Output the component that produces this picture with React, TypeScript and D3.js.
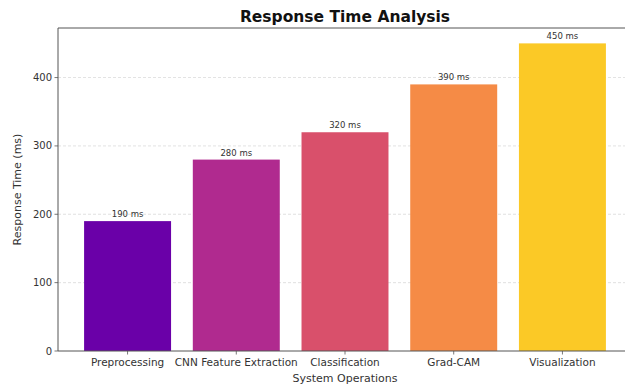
import React from "react";
import * as d3 from "d3";

const categories = ["Preprocessing", "CNN Feature Extraction", "Classification", "Grad-CAM", "Visualization"];
const values = [190, 280, 320, 390, 450];
const colors = ["#6a00a8", "#b02a8f", "#d9506b", "#f58b46", "#fbc926"];
const yTicks = [0, 100, 200, 300, 400];

const W = 625;
const H = 387;
const left = 58;
const right = 632;
const top = 28;
const bottom = 351;
const font = "DejaVu Sans, sans-serif";

export default function App() {
  const x = d3.scaleBand<string>().domain(categories).range([left, right]).paddingInner(0.2).paddingOuter(0.24);
  const y = d3.scaleLinear().domain([0, 472.5]).range([bottom, top]);
  const cx = (left + right) / 2;
  return (
    <svg width={W} height={H} style={{ position: "absolute", left: 0, top: 0, background: "#fff" }}>
      <text x={cx} y={22} textAnchor="middle" fontFamily={font} fontWeight="bold" fontSize={15.5} fill="#111">
        Response Time Analysis
      </text>
      {yTicks.slice(1).map((t) => (
        <line key={t} x1={left} x2={right} y1={y(t)} y2={y(t)} stroke="#ccc" strokeWidth={0.8} strokeDasharray="3,2" opacity={0.7} />
      ))}
      {categories.map((c, i) => (
        <g key={c}>
          <rect x={x(c)} y={y(values[i])} width={x.bandwidth()} height={bottom - y(values[i])} fill={colors[i]} />
          <text x={(x(c) as number) + x.bandwidth() / 2} y={y(values[i]) - 4} textAnchor="middle" fontFamily={font} fontSize={8.5} fill="#333">
            {values[i]} ms
          </text>
        </g>
      ))}
      <line x1={left} x2={right} y1={top} y2={top} stroke="#555" strokeWidth={1} />
      <line x1={left} x2={left} y1={top} y2={bottom} stroke="#555" strokeWidth={1} />
      <line x1={left} x2={right} y1={bottom} y2={bottom} stroke="#555" strokeWidth={1} />
      {yTicks.map((t) => (
        <g key={t}>
          <line x1={left - 3.5} x2={left} y1={y(t)} y2={y(t)} stroke="#555" strokeWidth={0.8} />
          <text x={left - 6} y={y(t) + 3.5} textAnchor="end" fontFamily={font} fontSize={10} fill="#333">
            {t}
          </text>
        </g>
      ))}
      {categories.map((c) => {
        const px = (x(c) as number) + x.bandwidth() / 2;
        return (
          <g key={c}>
            <line x1={px} x2={px} y1={bottom} y2={bottom + 3.5} stroke="#555" strokeWidth={0.8} />
            <text x={px} y={bottom + 15} textAnchor="middle" fontFamily={font} fontSize={10.5} fill="#333">
              {c}
            </text>
          </g>
        );
      })}
      <text x={cx} y={382} textAnchor="middle" fontFamily={font} fontSize={11} fill="#333">
        System Operations
      </text>
      <text transform={`translate(21,${(top + bottom) / 2}) rotate(-90)`} textAnchor="middle" fontFamily={font} fontSize={11} fill="#333">
        Response Time (ms)
      </text>
    </svg>
  );
}
